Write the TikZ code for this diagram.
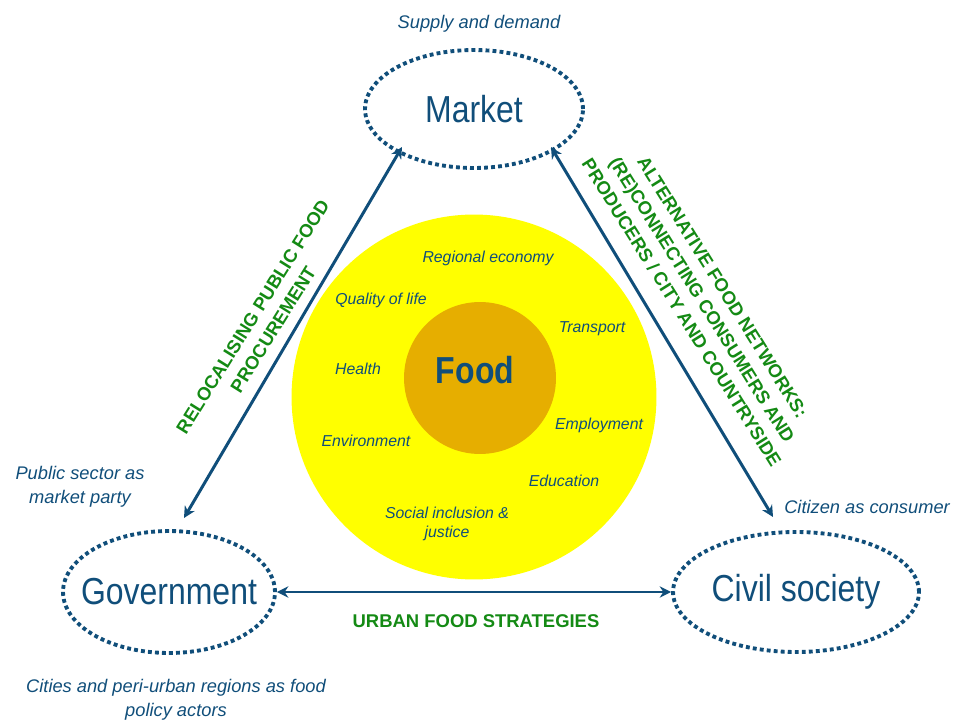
\documentclass[tikz,border=0pt]{standalone}
\usepackage{fontspec}
\setmainfont{Liberation Sans}
\newfontfamily\narrowfont[FakeStretch=0.85]{Liberation Sans}
\usetikzlibrary{shapes.geometric,arrows.meta}

\definecolor{darkblue}{RGB}{16,78,122}
\definecolor{foodgreen}{RGB}{20,138,20}
\definecolor{foodyellow}{RGB}{255,255,0}
\definecolor{foodorange}{RGB}{230,174,0}

\begin{document}
\begin{tikzpicture}[x=0.02cm,y=-0.02cm,
    actor/.style={ellipse,draw=darkblue,line width=2.2pt,dash pattern=on 2.2pt off 1.8pt,inner sep=0pt,
      label={[text=darkblue,font=\narrowfont\fontsize{21.4}{24}\selectfont]center:#1}},
    note/.style={text=darkblue,align=center,font=\itshape\fontsize{10.4}{13.6}\selectfont},
    theme/.style={text=darkblue,align=center,font=\itshape\fontsize{9}{11}\selectfont},
    strategy/.style={text=foodgreen,align=center,font=\bfseries\fontsize{10.5}{13.7}\selectfont},
    link/.style={darkblue,line width=1.7pt,{Stealth[length=6.5pt,width=6.5pt]}-{Stealth[length=6.5pt,width=6.5pt]}}]
  \useasboundingbox (0,0) rectangle (955,722);

  % food in the middle, with its themes around it
  \node[circle,fill=foodyellow,minimum size=7.3cm,inner sep=0pt] (ring) at (474,397) {};
  \node[circle,fill=foodorange,minimum size=3.04cm,inner sep=0pt] (core) at (480,378) {};
  \node[text=darkblue,font=\narrowfont\bfseries\fontsize{21.4}{24}\selectfont] (food) at (475,370) {Food};

  \node[theme] (economy) at (488,258) {Regional economy};
  \node[theme] (quality) at (381,300) {Quality of life};
  \node[theme] (transport) at (592,329) {Transport};
  \node[theme] (health) at (358,369) {Health};
  \node[theme] (employ) at (599,425) {Employment};
  \node[theme] (environ) at (366,441) {Environment};
  \node[theme] (educ) at (564,481) {Education};
  \node[theme] (social) at (447,524) {Social inclusion \&\\justice};

  % the three actors
  \node[actor=Market,minimum width=4.36cm,minimum height=2.36cm] (mkt) at (474,109) {};
  \node[actor=Government,minimum width=4.24cm,minimum height=2.44cm] (gov) at (169,592) {};
  \node[actor=Civil society,minimum width=4.92cm,minimum height=2.4cm] (civ) at (796,592) {};

  \node[note] (supply) at (479,24) {Supply and demand};
  \node[note] (sector) at (80,487) {Public sector as\\market party};
  \node[note] (citizen) at (867,507) {Citizen as consumer};
  \node[note] (cities) at (176,700) {Cities and peri-urban regions as food\\policy actors};

  % arrow ends near the ellipses
  \coordinate (mkt-l) at (402,147);
  \coordinate (gov-t) at (184,518);
  \coordinate (mkt-r) at (551,147);
  \coordinate (civ-t) at (773,517);

  \path (gov-t) edge[link] (mkt-l);
  \path (mkt-r) edge[link] (civ-t);
  \path (gov.east) edge[link] (civ.west);

  % strategies along the arrows
  \node[strategy,rotate=58] (procure) at (263,323) {RELOCALISING PUBLIC FOOD\\PROCUREMENT};
  \node[strategy,rotate=-58] (afn) at (702,300) {ALTERNATIVE FOOD NETWORKS:\\(RE)CONNECTING CONSUMERS AND\\PRODUCERS / CITY AND COUNTRYSIDE};
  \node[strategy] (urban) at (476,621) {URBAN FOOD STRATEGIES};
\end{tikzpicture}
\end{document}
